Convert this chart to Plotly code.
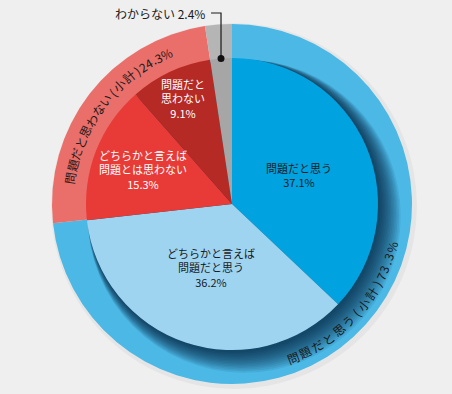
import math
import plotly.graph_objects as go

W, H = 452, 394

# ---- data ----
inner_labels = ["問題だと思う", "どちらかと言えば<br>問題だと思う", "どちらかと言えば<br>問題とは思わない",
                "問題だと<br>思わない", "わからない"]
inner_values = [37.1, 36.2, 15.3, 9.1, 2.4]
outer_labels = ["問題だと思う（小計）", "問題だと思わない（小計）", "わからない"]
outer_values = [73.3, 24.3, 2.4]

inner_colors = ["#00a2e0", "#9fd4f1", "#e83a36", "#b52a25", "#a6a6a6"]
outer_colors = ["#4bb8e5", "#ea6e69", "#b5b5b5"]

# ---- geometry (pixels) ----
CX, CY = 232, 204
R_OUT, R_IN = 180, 146
FONT = "Noto Sans CJK JP"
BG = "#efefef"


def dom(cx, cy, r):
    return dict(x=[(cx - r) / W, (cx + r) / W], y=[1 - (cy + r) / H, 1 - (cy - r) / H])


def px2paper(x, y):
    return x / W, 1 - y / H


def mid_angles(values):
    tot = sum(values)
    out, acc = [], 0.0
    for v in values:
        out.append((acc + v / 2) / tot * 360)
        acc += v
    return out


def polar(theta, r):
    t = math.radians(theta)
    return CX + r * math.sin(t), CY - r * math.cos(t)


fig = go.Figure()

# faint outer halo
fig.add_trace(go.Pie(values=[1], marker=dict(colors=["rgba(0,0,0,0.04)"], line=dict(width=0)),
                     domain=dom(CX + 2, CY + 2, R_OUT + 3),
                     textinfo="none", hoverinfo="skip", showlegend=False, sort=False))
# outer ring
fig.add_trace(go.Pie(labels=outer_labels, values=outer_values, marker=dict(colors=outer_colors, line=dict(width=0)),
                     domain=dom(CX, CY, R_OUT), direction="clockwise", rotation=0, sort=False,
                     textinfo="none", hoverinfo="skip", showlegend=False))
# soft shadow beneath the inner pie
N = 14
for k in range(N, 0, -1):
    d = 1 + k * 0.8
    s = k * 0.75
    fig.add_trace(go.Pie(values=[1], marker=dict(colors=["rgba(0,25,45,0.08)"], line=dict(width=0)),
                         domain=dom(CX + d, CY + d, R_IN + s), textinfo="none", hoverinfo="skip",
                         showlegend=False, sort=False))
# inner pie
fig.add_trace(go.Pie(labels=inner_labels, values=inner_values, marker=dict(colors=inner_colors, line=dict(width=0)),
                     domain=dom(CX, CY, R_IN), direction="clockwise", rotation=0, sort=False,
                     textinfo="none", hoverinfo="skip", showlegend=False))

annotations = []

# inner labels
in_mid = mid_angles(inner_values)
rfrac = [0.5, 0.46, 0.65, 0.8]
tcol = ["#1a1a1a", "#1a1a1a", "white", "white"]
for i in range(4):
    x, y = polar(in_mid[i], R_IN * rfrac[i])
    px, py = px2paper(x, y)
    annotations.append(dict(x=px, y=py, xref="paper", yref="paper", showarrow=False,
                            xanchor="center", yanchor="middle",
                            text=f"{inner_labels[i]}<br>{inner_values[i]}%",
                            font=dict(family=FONT, size=11, color=tcol[i]), align="center"))


def charw(c):
    if c in "0123456789":
        return 0.56
    if c == ".":
        return 0.28
    if c == "%":
        return 0.85
    if c in "（）":
        return 0.62
    return 1.0


def arc_text(text, mid, r, size, inward, track):
    widths = [charw(c) * size + track for c in text]
    total = sum(widths) - track
    tdeg = total / r * 180 / math.pi
    acc = 0.0
    for c, w in zip(text, widths):
        off = (acc + (w - track) / 2) / r * 180 / math.pi
        acc += w
        if inward:
            th = mid + tdeg / 2 - off
            ang = th - 180
        else:
            th = mid - tdeg / 2 + off
            ang = th
        ang = (ang + 180) % 360 - 180
        x, y = polar(th, r)
        px, py = px2paper(x, y)
        ch = c
        if c == "（":
            ch = "("
        elif c == "）":
            ch = ")"
        annotations.append(dict(x=px, y=py, xref="paper", yref="paper", showarrow=False, text=ch,
                                textangle=ang, xanchor="center", yanchor="middle",
                                font=dict(family=FONT, size=size, color="#1a1a1a")))


out_mid = mid_angles(outer_values)
arc_text(outer_labels[0] + f"{outer_values[0]}%", out_mid[0], 165, 12, True, 1.4)
arc_text(outer_labels[1] + f"{outer_values[1]}%", out_mid[1], 164, 12, False, 0.4)

# gray "わからない" callout
gx, gy = polar(in_mid[4], R_IN)
ty = 13
shapes = [
    dict(type="path", xref="paper", yref="paper",
         path=f"M {(gx - 10) / W} {1 - ty / H} L {gx / W} {1 - ty / H} L {gx / W} {1 - gy / H}",
         line=dict(color="#1a1a1a", width=1.2)),
    dict(type="circle", xref="paper", yref="paper", x0=(gx - 3.5) / W, x1=(gx + 3.5) / W,
         y0=1 - (gy + 3.5) / H, y1=1 - (gy - 3.5) / H, fillcolor="#111111", line=dict(width=0)),
]
lx, ly = px2paper(gx - 14, ty)
annotations.append(dict(x=lx, y=ly, xref="paper", yref="paper", showarrow=False, xanchor="right",
                        yanchor="middle", text=f"{outer_labels[2]} {outer_values[2]}%",
                        font=dict(family=FONT, size=12, color="#1a1a1a")))

fig.update_layout(width=W, height=H, margin=dict(l=0, r=0, t=0, b=0), paper_bgcolor=BG,
                  plot_bgcolor=BG, annotations=annotations, shapes=shapes, showlegend=False)
fig.write_html("out.html", config={"displayModeBar": False},
               post_script=f"document.body.style.margin='0';document.body.style.background='{BG}';")
